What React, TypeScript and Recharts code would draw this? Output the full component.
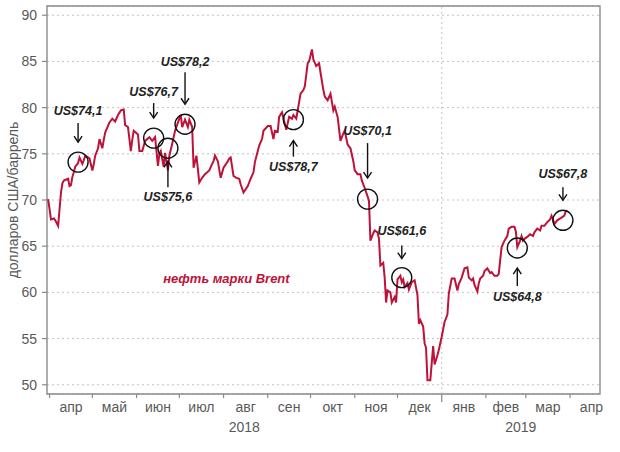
import React from 'react';
import {
  LineChart,
  Line,
  XAxis,
  YAxis,
  CartesianGrid,
  ReferenceLine,
  ReferenceDot,
  ReferenceArea,
} from 'recharts';

const FONT = '"Liberation Sans", Arial, sans-serif';

// ---- data ----
const dates = [
  '2018-03-31', '2018-04-02', '2018-04-04', '2018-04-05', '2018-04-07', '2018-04-08', '2018-04-09', '2018-04-10',
  '2018-04-11', '2018-04-14', '2018-04-15', '2018-04-16', '2018-04-17', '2018-04-18', '2018-04-19', '2018-04-21',
  '2018-04-22', '2018-04-24', '2018-04-25', '2018-04-26', '2018-04-29', '2018-05-01', '2018-05-02', '2018-05-03',
  '2018-05-05', '2018-05-06', '2018-05-08', '2018-05-09', '2018-05-10', '2018-05-13', '2018-05-15', '2018-05-17',
  '2018-05-19', '2018-05-21', '2018-05-23', '2018-05-24', '2018-05-26', '2018-05-27', '2018-05-28', '2018-05-29',
  '2018-05-30', '2018-06-02', '2018-06-03', '2018-06-05', '2018-06-07', '2018-06-10', '2018-06-12', '2018-06-14',
  '2018-06-16', '2018-06-17', '2018-06-18', '2018-06-20', '2018-06-21', '2018-06-23', '2018-06-24', '2018-06-26',
  '2018-06-28', '2018-07-01', '2018-07-02', '2018-07-03', '2018-07-05', '2018-07-07', '2018-07-08', '2018-07-10',
  '2018-07-11', '2018-07-13', '2018-07-15', '2018-07-17', '2018-07-19', '2018-07-22', '2018-07-24', '2018-07-25',
  '2018-07-26', '2018-07-28', '2018-07-30', '2018-08-01', '2018-08-04', '2018-08-05', '2018-08-06', '2018-08-08',
  '2018-08-10', '2018-08-12', '2018-08-13', '2018-08-15', '2018-08-18', '2018-08-20', '2018-08-22', '2018-08-23',
  '2018-08-26', '2018-08-28', '2018-08-29', '2018-09-01', '2018-09-03', '2018-09-05', '2018-09-06', '2018-09-08',
  '2018-09-09', '2018-09-11', '2018-09-13', '2018-09-14', '2018-09-16', '2018-09-18', '2018-09-19', '2018-09-21',
  '2018-09-23', '2018-09-24', '2018-09-26', '2018-09-27', '2018-09-29', '2018-09-30', '2018-10-02', '2018-10-03',
  '2018-10-05', '2018-10-07', '2018-10-08', '2018-10-10', '2018-10-11', '2018-10-13', '2018-10-15', '2018-10-17',
  '2018-10-18', '2018-10-20', '2018-10-22', '2018-10-24', '2018-10-25', '2018-10-27', '2018-10-29', '2018-10-31',
  '2018-11-01', '2018-11-03', '2018-11-05', '2018-11-06', '2018-11-08', '2018-11-10', '2018-11-11', '2018-11-12',
  '2018-11-14', '2018-11-15', '2018-11-17', '2018-11-18', '2018-11-19', '2018-11-21', '2018-11-22', '2018-11-23',
  '2018-11-24', '2018-11-26', '2018-11-27', '2018-11-29', '2018-11-30', '2018-12-01', '2018-12-03', '2018-12-04',
  '2018-12-05', '2018-12-06', '2018-12-08', '2018-12-09', '2018-12-11', '2018-12-13', '2018-12-15', '2018-12-16',
  '2018-12-17', '2018-12-19', '2018-12-20', '2018-12-21', '2018-12-22', '2018-12-24', '2018-12-26', '2018-12-27',
  '2018-12-29', '2018-12-30', '2019-01-01', '2019-01-03', '2019-01-05', '2019-01-06', '2019-01-08', '2019-01-10',
  '2019-01-12', '2019-01-13', '2019-01-15', '2019-01-17', '2019-01-19', '2019-01-20', '2019-01-22', '2019-01-23',
  '2019-01-24', '2019-01-26', '2019-01-27', '2019-01-28', '2019-01-30', '2019-01-31', '2019-02-02', '2019-02-04',
  '2019-02-05', '2019-02-07', '2019-02-09', '2019-02-10', '2019-02-11', '2019-02-12', '2019-02-14', '2019-02-16',
  '2019-02-17', '2019-02-19', '2019-02-21', '2019-02-22', '2019-02-23', '2019-02-25', '2019-02-26', '2019-02-27',
  '2019-02-28', '2019-03-02', '2019-03-04', '2019-03-06', '2019-03-07', '2019-03-09', '2019-03-11', '2019-03-12',
  '2019-03-14', '2019-03-16', '2019-03-18', '2019-03-19', '2019-03-20', '2019-03-21', '2019-03-23', '2019-03-24',
  '2019-03-26', '2019-03-28', '2019-03-29', '2019-03-30',
];

const brentPrices = [
  70.1, 67.9, 68.0, 67.8, 67.2, 69.0, 70.8, 71.8,
  72.1, 72.3, 71.5, 71.6, 72.5, 73.0, 73.6, 74.0,
  74.6, 73.9, 74.3, 74.8, 74.5, 73.2, 73.9, 74.8,
  75.6, 76.6, 75.6, 76.5, 77.3, 78.4, 78.8, 78.5,
  79.2, 79.7, 79.8, 78.1, 77.9, 76.6, 75.3, 76.5,
  77.5, 77.1, 75.3, 75.3, 76.4, 76.8, 76.4, 76.8,
  73.7, 75.0, 75.3, 73.6, 75.1, 73.2, 74.8, 76.1,
  77.5, 78.8, 79.2, 77.9, 78.7, 77.9, 78.7, 77.9,
  73.5, 74.8, 71.9, 72.4, 72.8, 73.2, 73.9, 74.2,
  74.8, 74.2, 72.4, 73.5, 74.2, 74.5, 74.6, 72.6,
  72.4, 72.3, 71.7, 70.8, 71.5, 72.3, 73.0, 74.1,
  75.9, 76.6, 77.5, 78.0, 78.0, 76.6, 77.5, 77.4,
  79.0, 79.5, 78.2, 77.6, 79.0, 78.8, 79.2, 78.8,
  80.6, 81.5, 81.9, 82.3, 84.8, 85.0, 86.3, 85.2,
  84.5, 84.8, 83.8, 81.9, 81.2, 80.8, 81.5, 79.7,
  80.1, 79.0, 76.4, 77.2, 77.5, 76.0, 75.6, 74.2,
  73.2, 72.8, 72.8, 72.1, 71.3, 70.4, 69.9, 65.6,
  66.4, 66.7, 66.5, 65.8, 62.9, 63.2, 61.6, 58.9,
  60.2, 60.0, 58.9, 59.5, 58.9, 61.4, 61.8, 61.1,
  61.4, 60.6, 61.0, 60.3, 61.1, 61.3, 59.7, 56.6,
  57.0, 56.3, 54.5, 54.0, 50.5, 50.5, 54.2, 52.2,
  53.2, 53.8, 55.2, 56.8, 57.6, 59.9, 61.5, 61.5,
  60.2, 60.9, 61.6, 62.6, 62.7, 61.6, 61.3, 61.5,
  60.8, 60.1, 61.0, 61.5, 61.8, 62.3, 62.6, 62.1,
  62.2, 61.8, 61.8, 62.0, 63.5, 64.9, 65.6, 66.1,
  66.9, 67.1, 67.1, 66.6, 64.9, 65.6, 66.1, 65.6,
  65.8, 66.0, 66.3, 66.1, 66.5, 66.9, 66.7, 67.2,
  67.2, 67.6, 67.9, 68.3, 67.9, 67.4, 67.8, 67.9,
  68.1, 68.3, 68.8, 68.8,
];

const monthStarts = [
  '2018-04-01', '2018-05-01', '2018-06-01', '2018-07-01', '2018-08-01', '2018-09-01', '2018-10-01',
  '2018-11-01', '2018-12-01', '2019-01-01', '2019-02-01', '2019-03-01', '2019-04-01', '2019-05-01',
];
const monthLabels = ['апр', 'май', 'июн', 'июл', 'авг', 'сен', 'окт', 'ноя', 'дек', 'янв', 'фев', 'мар', 'апр'];
const yearLabels = ['2018', '2019'];
const yearBoundary = '2019-01-01';
const yTicks = [50, 55, 60, 65, 70, 75, 80, 85, 90];

const calloutDates = [
  '2018-04-21', '2018-06-13', '2018-06-23', '2018-07-05', '2018-09-19',
  '2018-11-10', '2018-12-04', '2019-02-23', '2019-03-27',
];
const calloutValues = [74.1, 76.7, 75.6, 78.2, 78.7, 70.1, 61.6, 64.8, 67.8];
const calloutLabels = [
  'US$74,1', 'US$76,7', 'US$75,6', 'US$78,2', 'US$78,7',
  'US$70,1', 'US$61,6', 'US$64,8', 'US$67,8',
];

const seriesName = 'нефть марки Brent';
const seriesLabelDate = '2018-08-03';
const seriesLabelValue = 61.5;
const yAxisTitle = 'долларов США/баррель';

// ---- layout / style ----
const BASE = Date.parse('2018-04-01');
const toDay = (s: string) => (Date.parse(s) - BASE) / 86400000;

const X_MIN = -1.8;
const X_MAX = 386;
const Y_MIN = 49;
const Y_MAX = 91;

const LINE_COLOR = '#BE1239';
const GRID = '#c4c4c4';
const AXIS = '#8a8a8a';
const TEXT = '#595959';

// side: -1 label above the circle, 1 label below
const calloutLayout = [
  { side: -1, label: 52, a0: 39, a1: 20 },
  { side: -1, label: 47, a0: 35, a1: 20 },
  { side: 1, label: 48, a0: 39, a1: 13 },
  { side: -1, label: 63, a0: 52, a1: 20 },
  { side: 1, label: 47, a0: 37, a1: 21 },
  { side: -1, label: 69, a0: 56, a1: 21 },
  { side: -1, label: 47, a0: 32, a1: 19 },
  { side: 1, label: 48, a0: 38, a1: 20 },
  { side: -1, label: 47, a0: 33, a1: 20 },
];

const chartData = dates.map((d, i) => ({ t: toDay(d), price: brentPrices[i] }));
const monthTicks = monthStarts.slice(0, 13).map(toDay);
const labelTicks = monthLabels.map((_, i) => (toDay(monthStarts[i]) + toDay(monthStarts[i + 1])) / 2);
const janDay = toDay(yearBoundary);
const yearTicks = [(X_MIN + janDay) / 2, (janDay + X_MAX) / 2];
const allTicks = [...monthTicks, ...labelTicks, ...yearTicks].sort((a, b) => a - b);

const AxisTick = (p: any) => {
  const v = p.payload.value;
  const mi = monthTicks.findIndex((m) => Math.abs(m - v) < 1e-6);
  if (mi >= 0) {
    const isYear = Math.abs(v - janDay) < 1e-6;
    return <line x1={p.x} x2={p.x} y1={p.y} y2={p.y + (isYear ? 8 : 4)} stroke={AXIS} strokeWidth={1.2} />;
  }
  const li = labelTicks.findIndex((m) => Math.abs(m - v) < 1e-6);
  if (li >= 0) {
    return (
      <text x={p.x} y={p.y + 8} dy="0.71em" textAnchor="middle" fontFamily={FONT} fontSize={14} fill={TEXT}>
        {monthLabels[li]}
      </text>
    );
  }
  const yi = yearTicks.findIndex((m) => Math.abs(m - v) < 1e-6);
  if (yi >= 0) {
    return (
      <text x={p.x} y={p.y + 28} dy="0.71em" textAnchor="middle" fontFamily={FONT} fontSize={14} fill={TEXT}>
        {yearLabels[yi]}
      </text>
    );
  }
  return <g />;
};

const Callout = ({ cx, cy, text, lay }: any) => {
  const s = lay.side;
  const y0 = cy + s * lay.a0;
  const y1 = cy + s * lay.a1;
  return (
    <g>
      <circle cx={cx} cy={cy} r={10} fill="none" stroke="#111" strokeWidth={1.4} />
      <line x1={cx} x2={cx} y1={y0} y2={y1} stroke="#111" strokeWidth={1.4} />
      <polyline
        points={`${cx - 4},${y1 + s * 6} ${cx},${y1} ${cx + 4},${y1 + s * 6}`}
        fill="none"
        stroke="#111"
        strokeWidth={1.4}
      />
      <text
        x={cx}
        y={cy + s * lay.label}
        dy="0.36em"
        textAnchor="middle"
        fontFamily={FONT}
        fontWeight="bold"
        fontStyle="italic"
        fontSize={12.5}
        fill="#222"
      >
        {text}
      </text>
    </g>
  );
};

const YTitle = (props: any) => {
  const vb = props.viewBox || { x: 6, y: 6, width: 41, height: 388 };
  const x = 13;
  const y = vb.y + vb.height / 2;
  return (
    <text
      x={x}
      y={y}
      dy="0.36em"
      transform={`rotate(-90 ${x} ${y})`}
      textAnchor="middle"
      fontFamily={FONT}
      fontSize={14}
      fill={TEXT}
    >
      {yAxisTitle}
    </text>
  );
};

export default function App() {
  return (
    <div style={{ position: 'absolute', left: 0, top: 0, width: 620, height: 452, background: '#fff' }}>
      <LineChart
        width={620}
        height={452}
        data={chartData}
        margin={{ top: 6, right: 20, bottom: 8, left: 6 }}
      >
        <CartesianGrid
          vertical={false}
          stroke={GRID}
          strokeDasharray="2 3"
          xAxisId="main"
          yAxisId="y"
        />
        <XAxis
          xAxisId="main"
          dataKey="t"
          type="number"
          domain={[X_MIN, X_MAX]}
          allowDataOverflow
          ticks={allTicks}
          interval={0}
          tick={(p: any) => <AxisTick {...p} />}
          tickLine={false}
          axisLine={false}
          tickSize={0}
          tickMargin={0}
          height={50}
        />
        <YAxis
          yAxisId="y"
          type="number"
          domain={[Y_MIN, Y_MAX]}
          allowDataOverflow
          ticks={yTicks}
          interval={0}
          width={41}
          tick={{ fontSize: 14, fill: TEXT, fontFamily: FONT }}
          tickLine={{ stroke: AXIS, strokeWidth: 1.2 }}
          axisLine={false}
          tickSize={5}
          tickMargin={5}
          label={(p: any) => <YTitle {...p} />}
        />
        <ReferenceLine
          xAxisId="main"
          yAxisId="y"
          x={janDay}
          stroke={GRID}
          strokeDasharray="2 3"
        />
        <ReferenceArea
          xAxisId="main"
          yAxisId="y"
          x1={X_MIN}
          x2={X_MAX}
          y1={Y_MIN}
          y2={Y_MAX}
          fill="none"
          stroke={AXIS}
          strokeWidth={1.4}
          ifOverflow="visible"
        />
        <Line
          xAxisId="main"
          yAxisId="y"
          type="linear"
          dataKey="price"
          stroke={LINE_COLOR}
          strokeWidth={2}
          dot={false}
          isAnimationActive={false}
        />
        <ReferenceDot
          xAxisId="main"
          yAxisId="y"
          x={toDay(seriesLabelDate)}
          y={seriesLabelValue}
          r={0}
          shape={(p: any) => (
            <text
              x={p.cx}
              y={p.cy}
              dy="0.36em"
              textAnchor="middle"
              fontFamily={FONT}
              fontWeight="bold"
              fontStyle="italic"
              fontSize={13}
              fill={LINE_COLOR}
            >
              {seriesName}
            </text>
          )}
        />
        {calloutDates.map((d, i) => (
          <ReferenceDot
            key={d}
            xAxisId="main"
            yAxisId="y"
            x={toDay(d)}
            y={calloutValues[i]}
            r={10}
            shape={(p: any) => (
              <Callout cx={p.cx} cy={p.cy} text={calloutLabels[i]} lay={calloutLayout[i]} />
            )}
          />
        ))}
      </LineChart>
    </div>
  );
}
